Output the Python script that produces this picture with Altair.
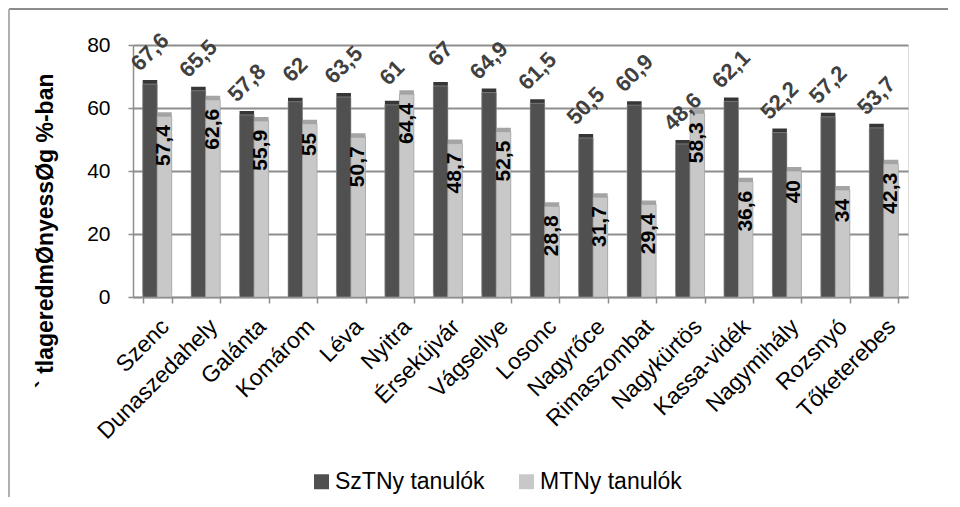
import altair as alt
import pandas as pd

categories = ["Szenc", "Dunaszedahely", "Galánta", "Komárom", "Léva", "Nyitra",
              "Érsekújvár", "Vágsellye", "Losonc", "Nagyrőce", "Rimaszombat",
              "Nagykürtös", "Kassa-vidék", "Nagymihály", "Rozsnyó", "Tőketerebes"]
sztny = [67.6, 65.5, 57.8, 62, 63.5, 61, 67, 64.9, 61.5, 50.5, 60.9, 48.6, 62.1, 52.2, 57.2, 53.7]
mtny = [57.4, 62.6, 55.9, 55, 50.7, 64.4, 48.7, 52.5, 28.8, 31.7, 29.4, 58.3, 36.6, 40, 34, 42.3]
series = ["SzTNy tanulók", "MTNy tanulók"]
colors = ["#505050", "#c8c8c8"]
side_colors = ["#363636", "#a4a4a4"]
y_title = "` tlageredmØnyessØg %-ban"

rows = []
for s, vals, sc in zip(series, [sztny, mtny], side_colors):
    for c, v in zip(categories, vals):
        rows.append({"category": c, "series": s, "value": v,
                     "label": f"{v:g}".replace(".", ","), "side": sc})
df = pd.DataFrame(rows)

FONT = "Liberation Sans"
GRID = "#8e8e8e"

x_enc = alt.X("category:N", sort=categories,
              scale=alt.Scale(paddingInner=0.4, paddingOuter=0.2),
              axis=alt.Axis(title=None, labelAngle=315, labelFontSize=23, labelColor="#000000",
                            labelFont=FONT, domainColor=GRID, domainWidth=1.5,
                            tickColor=GRID, tickWidth=1.5, tickBand="extent", tickSize=6,
                            labelPadding=12, grid=False))
xo_enc = alt.XOffset("series:N", sort=series, scale=alt.Scale(domain=series))
y_enc = alt.Y("value:Q", scale=alt.Scale(domain=[0, 80]),
              axis=alt.Axis(title=y_title, values=[0, 20, 40, 60, 80], grid=True,
                            gridColor=GRID, gridWidth=2, domainColor=GRID, domainWidth=1.5,
                            tickColor=GRID, tickSize=5, tickWidth=1.5,
                            labelFontSize=21, labelColor="#000000", labelFont=FONT,
                            labelPadding=18, titleFont=FONT, titleFontSize=23,
                            titleFontWeight="bold", titleColor="#000000",
                            titleAngle=270, titleX=-81, titleY=28, titleAlign="right",
                            titleBaseline="alphabetic"))

base = alt.Chart(df)

depth = base.mark_bar(xOffset=7, yOffset=-4).encode(
    x=x_enc, xOffset=xo_enc, y=y_enc,
    fill=alt.Fill("side:N", scale=None),
)

bars = base.mark_bar(xOffset=3, stroke="#9a9a9a", strokeWidth=0.6).encode(
    x=x_enc, xOffset=xo_enc, y=y_enc,
    color=alt.Color("series:N", sort=series,
                    scale=alt.Scale(domain=series, range=colors),
                    legend=alt.Legend(title=None, orient="none", legendX=177, legendY=425,
                                      direction="horizontal", symbolType="square",
                                      symbolSize=225, symbolStrokeWidth=0,
                                      labelFontSize=23, labelFont=FONT, labelColor="#000000",
                                      columnPadding=30, labelOffset=2)),
)

sz_text = base.transform_filter(alt.datum.series == series[0]).mark_text(
    angle=315, align="center", baseline="middle", fontSize=22, font=FONT,
    fontWeight="bold", color="#404040", xOffset=3, yOffset=-32,
).encode(x=x_enc, xOffset=xo_enc, y=y_enc, text="label:N")

mt_text = base.transform_filter(alt.datum.series == series[1]).mark_text(
    angle=270, align="right", baseline="middle", fontSize=21, font=FONT,
    fontWeight="bold", color="#000000", xOffset=3, yOffset=9,
).encode(x=x_enc, xOffset=xo_enc, y=y_enc, text="label:N")

frame_df = pd.DataFrame({"f": [0]})
frame_top = alt.Chart(frame_df).mark_rule(color="#8c8c8c", strokeWidth=2).encode(
    x=alt.value(-124), x2=alt.value(815), y=alt.value(-36))
frame_left = alt.Chart(frame_df).mark_rule(color="#b0b0b0", strokeWidth=2).encode(
    x=alt.value(-124), y=alt.value(-36), y2=alt.value(452))

chart = alt.layer(depth, bars, sz_text, mt_text, frame_top, frame_left).properties(
    width=775, height=252,
    autosize=alt.AutoSizeParams(type="none"),
    padding={"left": 125, "top": 37, "right": 40, "bottom": 200},
).configure_view(stroke="transparent").configure(font=FONT)

chart.save("out.html", embed_options={"renderer": "svg", "actions": False})
